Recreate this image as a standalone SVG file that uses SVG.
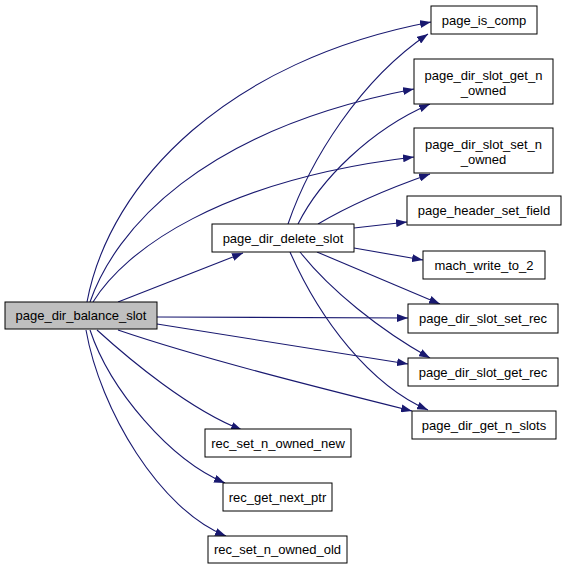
<svg xmlns="http://www.w3.org/2000/svg" width="565" height="571" viewBox="0 0 565 571">
<defs>
<marker id="arr" viewBox="0 0 11 8" refX="11" refY="4" markerWidth="11" markerHeight="8" markerUnits="userSpaceOnUse" orient="auto">
<path d="M0,0 L11,4 L0,8 z" fill="#191970"/>
</marker>
<style>
.n rect{fill:#ffffff;stroke:#000000;stroke-width:1}
.n text{font-family:"Liberation Sans",Arial,sans-serif;font-size:13px;text-anchor:middle;fill:#000000}
#edges path{fill:none;stroke:#191970;stroke-width:1.1;marker-end:url(#arr)}
</style>
</defs>
<rect width="565" height="571" fill="#ffffff"/>
<g id="edges">
<path d="M87,302 C110,180 230,60 431,22"/>
<path d="M90,302 C115,230 200,130 414,89"/>
<path d="M93,302 C125,250 220,180 414,157"/>
<path d="M118,302 L243,253"/>
<path d="M157,317 L408,318"/>
<path d="M157,324 L408,364"/>
<path d="M118,330 C200,358 320,388 412,411"/>
<path d="M97,330 C130,360 190,410 242,430"/>
<path d="M90,330 C110,390 170,460 225,483"/>
<path d="M86,330 C100,410 160,510 226,536"/>
<path d="M288,224 C310,160 360,80 428,34"/>
<path d="M298,224 C320,180 370,130 430,104"/>
<path d="M318,224 C350,205 390,188 430,174"/>
<path d="M354,228 L407,222"/>
<path d="M354,248 L423,260"/>
<path d="M317,252 L440,304"/>
<path d="M300,252 C330,290 380,330 430,358"/>
<path d="M290,252 C320,320 370,385 428,410"/>
</g>
<g id="page_dir_balance_slot" class="n"><rect x="5" y="302" width="152" height="27" style="fill:#bfbfbf"/><text x="81" y="320">page_dir_balance_slot</text></g>
<g id="page_dir_delete_slot" class="n"><rect x="212" y="224" width="142" height="28"/><text x="283" y="242.5">page_dir_delete_slot</text></g>
<g id="page_is_comp" class="n"><rect x="431" y="6" width="106" height="28"/><text x="484" y="24.5">page_is_comp</text></g>
<g id="page_dir_slot_get_n_owned" class="n"><rect x="414" y="59" width="139" height="45"/><text x="483.5" y="79.5">page_dir_slot_get_n</text><text x="483.5" y="94.5">_owned</text></g>
<g id="page_dir_slot_set_n_owned" class="n"><rect x="414" y="128" width="139" height="45"/><text x="483.5" y="148.5">page_dir_slot_set_n</text><text x="483.5" y="163.5">_owned</text></g>
<g id="page_header_set_field" class="n"><rect x="407" y="196" width="154" height="29"/><text x="484" y="215">page_header_set_field</text></g>
<g id="mach_write_to_2" class="n"><rect x="423" y="251" width="122" height="28"/><text x="484" y="269.5">mach_write_to_2</text></g>
<g id="page_dir_slot_set_rec" class="n"><rect x="408" y="304" width="150" height="29"/><text x="483" y="323">page_dir_slot_set_rec</text></g>
<g id="page_dir_slot_get_rec" class="n"><rect x="408" y="358" width="150" height="28"/><text x="483" y="376.5">page_dir_slot_get_rec</text></g>
<g id="page_dir_get_n_slots" class="n"><rect x="412" y="411" width="144" height="28"/><text x="484" y="429.5">page_dir_get_n_slots</text></g>
<g id="rec_set_n_owned_new" class="n"><rect x="205" y="429" width="146" height="28"/><text x="278" y="447.5">rec_set_n_owned_new</text></g>
<g id="rec_get_next_ptr" class="n"><rect x="223" y="483" width="109" height="28"/><text x="277.5" y="501.5">rec_get_next_ptr</text></g>
<g id="rec_set_n_owned_old" class="n"><rect x="208" y="536" width="139" height="27"/><text x="277.5" y="554">rec_set_n_owned_old</text></g>
</svg>
